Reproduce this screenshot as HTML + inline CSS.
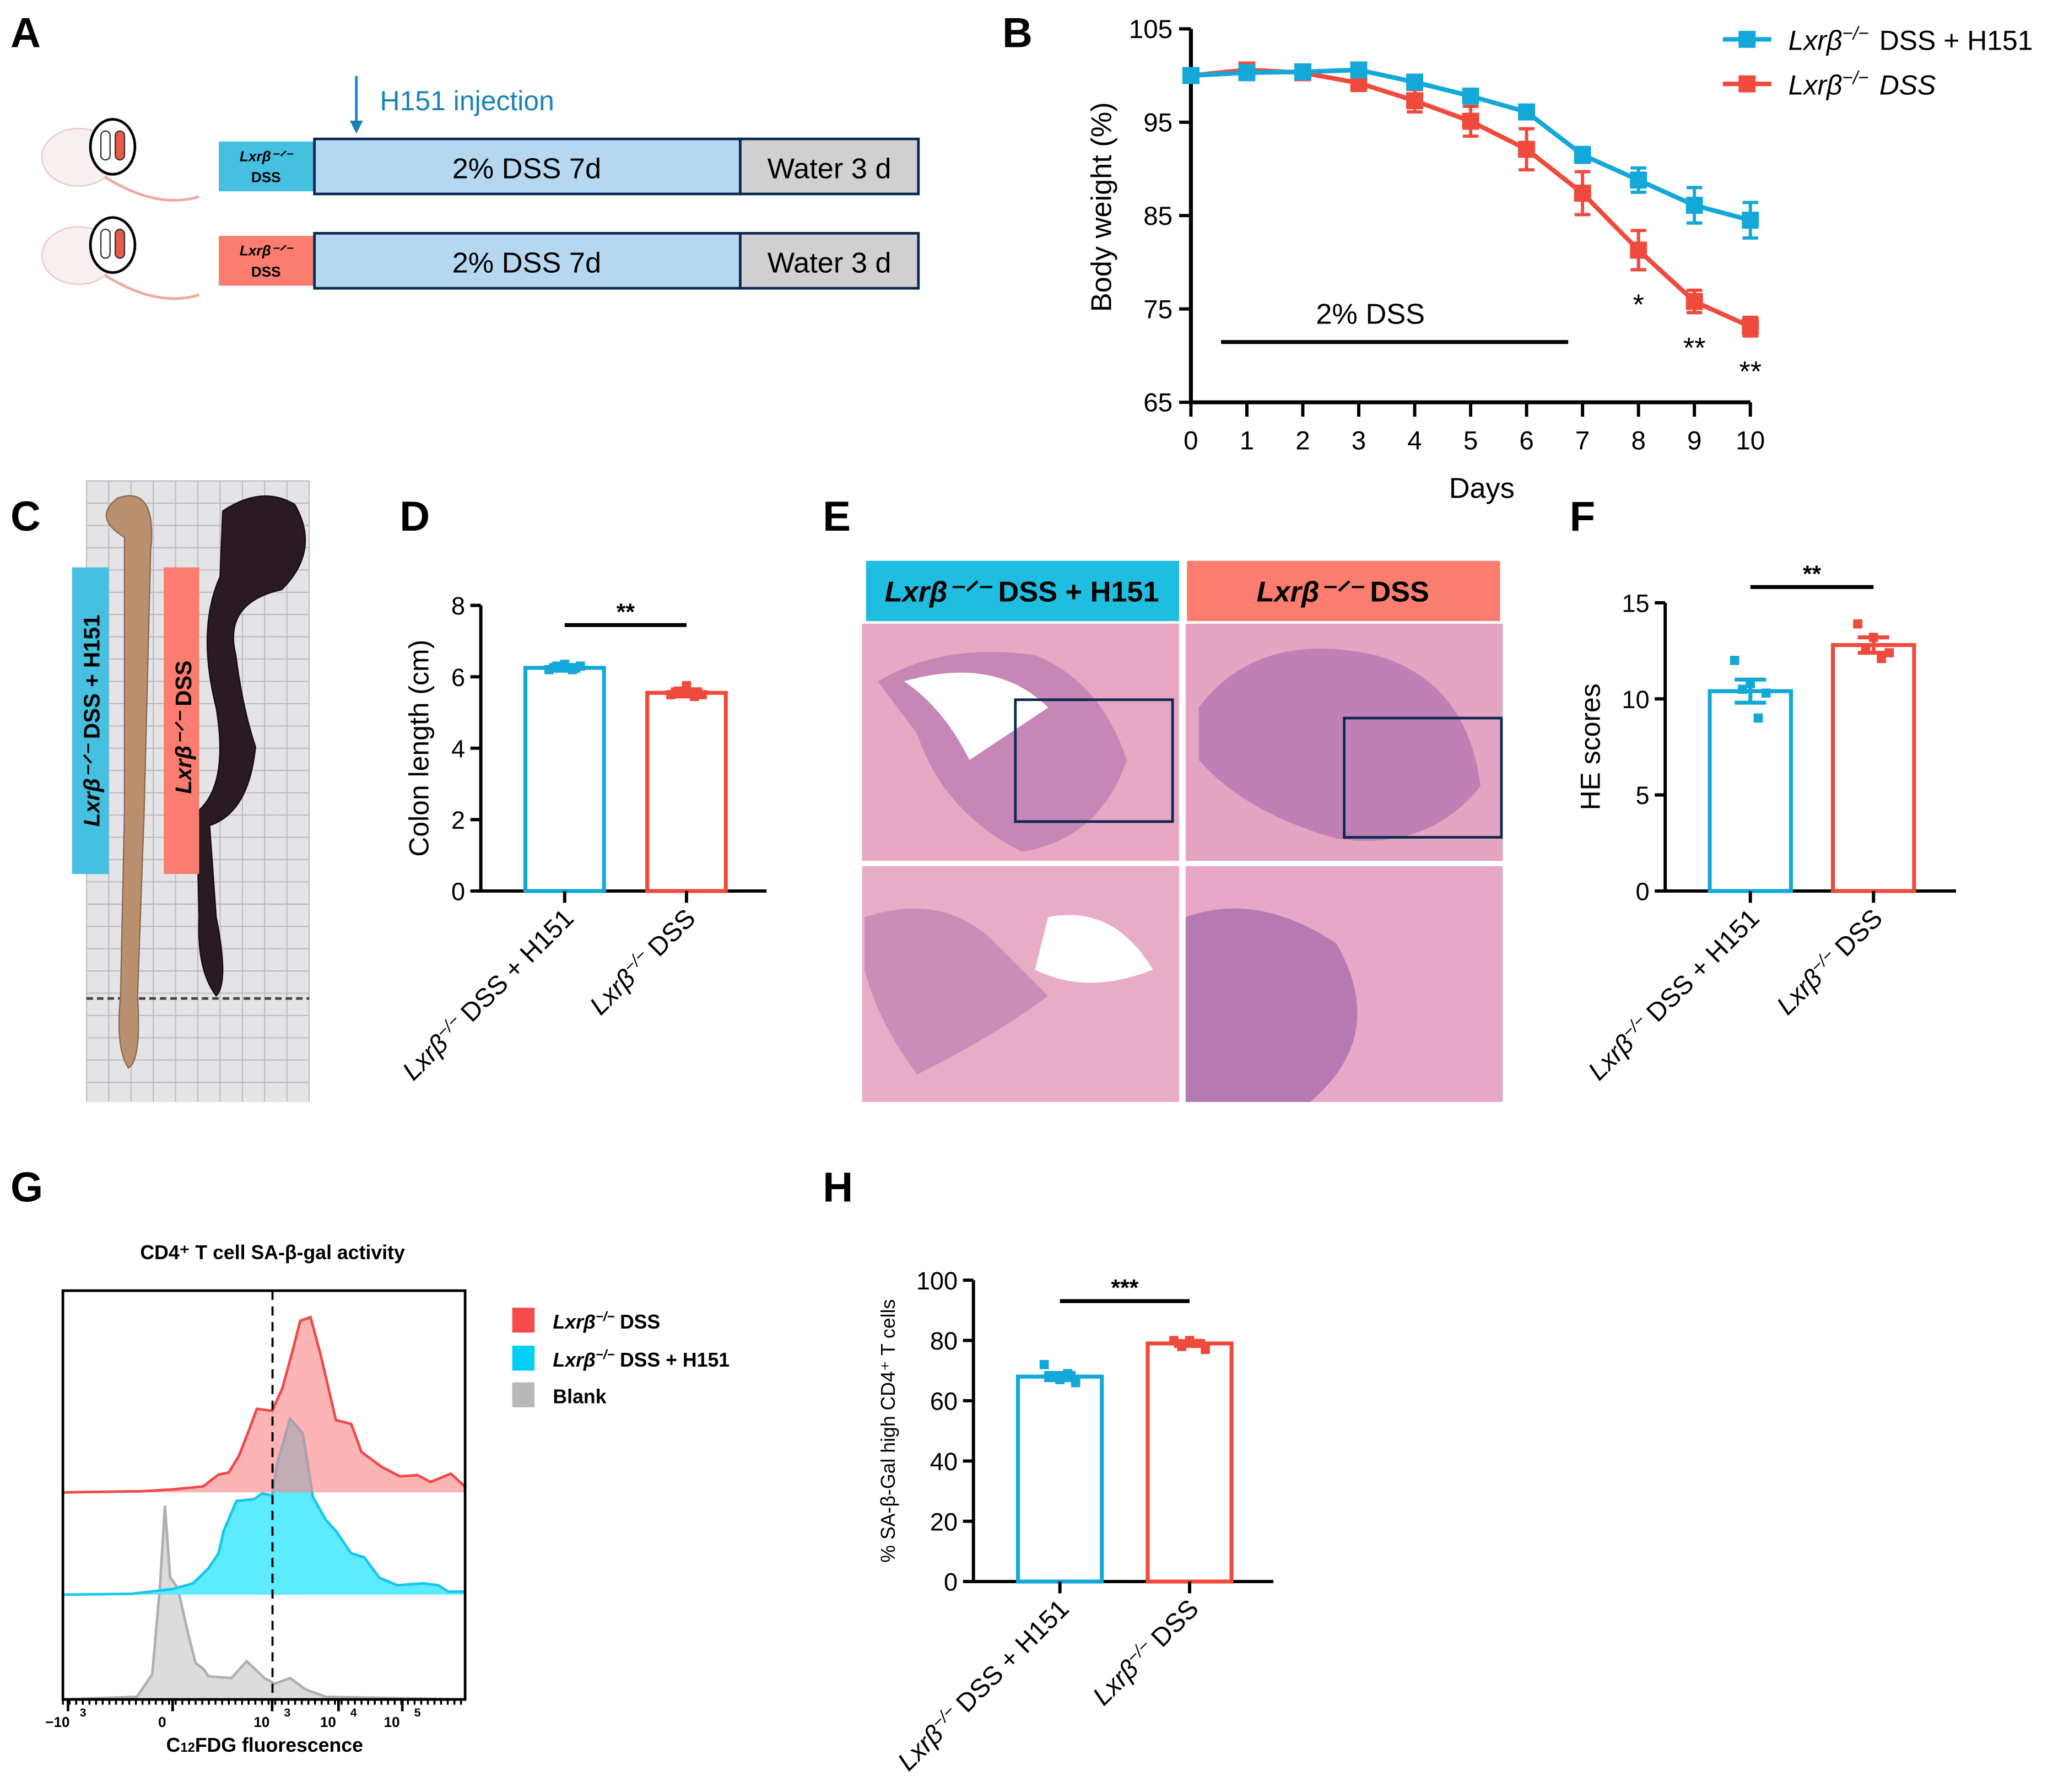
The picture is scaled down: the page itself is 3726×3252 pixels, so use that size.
<!DOCTYPE html>
<html><head><meta charset="utf-8"><style>
html,body{margin:0;padding:0;background:#fff;}
svg{display:block;font-family:"Liberation Sans",Arial,sans-serif;}
</style></head><body>
<svg id="fig" width="3726" height="3252" viewBox="0 0 1567 1367.6" xmlns="http://www.w3.org/2000/svg">
<rect width="1570" height="1370" fill="#fff"/>
<g font-weight="bold" font-size="32" fill="#000">
<text x="8" y="36">A</text><text x="765" y="36">B</text><text x="8" y="405">C</text><text x="305" y="405">D</text>
<text x="628" y="405">E</text><text x="1198" y="405">F</text><text x="8" y="917">G</text><text x="628" y="917">H</text>
</g>

<!-- Panel A -->
<g>
<g>
<ellipse cx="60" cy="120" rx="28" ry="22" fill="#f8f0f0" stroke="#e8c8c8"/>
<path d="M80 135 Q120 160 152 150" fill="none" stroke="#f0a8a0" stroke-width="2"/>
<ellipse cx="86" cy="112" rx="17" ry="21" fill="#fff" stroke="#000" stroke-width="2"/>
<rect x="77" y="100" width="7" height="22" rx="3.5" fill="#fff" stroke="#333"/><rect x="88" y="100" width="7" height="22" rx="3.5" fill="#ea5a48" stroke="#333"/>
</g>
<g>
<ellipse cx="60" cy="195" rx="28" ry="22" fill="#f8f0f0" stroke="#e8c8c8"/>
<path d="M80 210 Q120 235 152 225" fill="none" stroke="#f0a8a0" stroke-width="2"/>
<ellipse cx="86" cy="187" rx="17" ry="21" fill="#fff" stroke="#000" stroke-width="2"/>
<rect x="77" y="175" width="7" height="22" rx="3.5" fill="#fff" stroke="#333"/><rect x="88" y="175" width="7" height="22" rx="3.5" fill="#ea5a48" stroke="#333"/>
</g>
<line x1="272" y1="58" x2="272" y2="95" stroke="#1a82b8" stroke-width="2"/>
<path d="M267 92 L272 102 L277 92 Z" fill="#1a82b8"/>
<text x="290" y="84" font-size="21" fill="#1a82b8">H151 injection</text>
<rect x="167" y="108" width="73" height="38" fill="#45c0e0"/>
<text x="203" y="123" font-size="11" font-weight="bold" font-style="italic" text-anchor="middle">Lxrβ⁻ᐟ⁻</text>
<text x="203" y="139" font-size="11" font-weight="bold" text-anchor="middle">DSS</text>
<rect x="240" y="106" width="325" height="42" fill="#b5d8f0" stroke="#0a2a50" stroke-width="2"/>
<text x="402" y="136" font-size="22" text-anchor="middle">2% DSS 7d</text>
<rect x="565" y="106" width="136" height="42" fill="#d0d0d0" stroke="#0a2a50" stroke-width="2"/>
<text x="633" y="136" font-size="22" text-anchor="middle">Water 3 d</text>
<rect x="167" y="180" width="73" height="38" fill="#fa7d70"/>
<text x="203" y="195" font-size="11" font-weight="bold" font-style="italic" text-anchor="middle">Lxrβ⁻ᐟ⁻</text>
<text x="203" y="211" font-size="11" font-weight="bold" text-anchor="middle">DSS</text>
<rect x="240" y="178" width="325" height="42" fill="#b5d8f0" stroke="#0a2a50" stroke-width="2"/>
<text x="402" y="208" font-size="22" text-anchor="middle">2% DSS 7d</text>
<rect x="565" y="178" width="136" height="42" fill="#d0d0d0" stroke="#0a2a50" stroke-width="2"/>
<text x="633" y="208" font-size="22" text-anchor="middle">Water 3 d</text>
</g>

<!-- Panel B -->
<g id="lineChart"></g>

<!-- Panel C photo -->
<g>
<rect x="66" y="367" width="170" height="474" fill="#e4e4e6"/>
<g stroke="#b8b8bc" stroke-width="0.8" id="gridC"></g>
<line x1="66" y1="762" x2="236" y2="762" stroke="#444" stroke-width="2" stroke-dasharray="5,3"/>
<path d="M95 410 Q70 395 90 380 Q120 370 115 420 L110 620 L105 760 Q108 810 98 815 Q88 800 92 760 L95 620 Z" fill="#b89070" stroke="#8a6a50"/>
<path d="M170 390 Q200 370 225 385 Q245 420 215 450 Q170 460 180 500 Q185 540 195 570 Q190 620 160 630 L165 700 Q175 750 165 760 Q150 740 152 700 L150 620 Q175 600 165 540 Q150 480 168 440 Z" fill="#2a1a24" stroke="#1a0a14"/>
<rect x="55" y="433" width="28" height="234" fill="#45c0e0"/>
<text transform="translate(76,550) rotate(-90)" font-size="17" font-weight="bold" text-anchor="middle"><tspan font-style="italic">Lxrβ⁻ᐟ⁻</tspan> DSS + H151</text>
<rect x="125" y="433" width="27" height="234" fill="#fa7d70"/>
<text transform="translate(146,555) rotate(-90)" font-size="17" font-weight="bold" text-anchor="middle"><tspan font-style="italic">Lxrβ⁻ᐟ⁻</tspan> DSS</text>
</g>

<!-- Bar charts -->
<g id="barD"></g>
<g id="barF"></g>
<g id="barH"></g>

<!-- Panel E histology -->
<g>
<rect x="661" y="428" width="239" height="46" fill="#1fbde0"/>
<text x="780" y="459" font-size="22" font-weight="bold" text-anchor="middle"><tspan font-style="italic">Lxrβ⁻ᐟ⁻</tspan> DSS + H151</text>
<rect x="906" y="428" width="239" height="46" fill="#fa7d70"/>
<text x="1025" y="459" font-size="22" font-weight="bold" text-anchor="middle"><tspan font-style="italic">Lxrβ⁻ᐟ⁻</tspan> DSS</text>
<rect x="658" y="476" width="242" height="181" fill="#e8a8c4"/>
<path d="M670 520 Q720 490 790 500 Q840 520 860 580 Q840 640 780 650 Q720 620 700 560 Z" fill="#b878b0" opacity="0.7"/>
<path d="M690 520 Q760 500 800 540 Q770 560 740 580 Q720 540 690 520 Z" fill="#fff"/>
<rect x="775" y="534" width="120" height="93" fill="none" stroke="#0a2a50" stroke-width="2"/>
<rect x="905" y="476" width="242" height="181" fill="#e4a4c2"/>
<path d="M915 540 Q960 480 1050 500 Q1120 520 1130 600 Q1090 650 1020 640 Q950 620 915 580 Z" fill="#b070b0" opacity="0.7"/>
<rect x="1026" y="548" width="120" height="91" fill="none" stroke="#0a2a50" stroke-width="2"/>
<rect x="658" y="661" width="242" height="180" fill="#e8acc6"/>
<path d="M660 700 Q720 680 760 720 L800 760 Q760 790 700 820 Q670 780 660 740 Z" fill="#b07ab0" opacity="0.6"/>
<path d="M800 700 Q850 690 880 740 Q830 760 790 740 Z" fill="#fff"/>
<rect x="905" y="661" width="242" height="180" fill="#e6a8c6"/>
<path d="M905 700 Q960 680 1020 720 Q1060 790 1000 841 L905 841 Z" fill="#9e66a8" opacity="0.7"/>
</g>

<!-- Panel G histogram -->
<g id="histG"></g>
</svg>
<script>
const NS='http://www.w3.org/2000/svg';
function mk(parent,tag,attrs,text){const e=document.createElementNS(NS,tag);for(const k in attrs)e.setAttribute(k,attrs[k]);if(text!==undefined)e.textContent=text;parent.appendChild(e);return e;}

// grid for photo
const gc=document.getElementById('gridC');
for(let x=66;x<=236;x+=17){const l=mk(gc,'line',{x1:x,y1:367,x2:x,y2:841});}
for(let y=367;y<=841;y+=17){const l=mk(gc,'line',{x1:66,y1:y,x2:236,y2:y});}

// ===== Panel B data =====
const days=[0,1,2,3,4,5,6,7,8,9,10];
const yTicksB=[65,75,85,95,105];
const blueMean=[100,100.3,100.4,100.6,99.3,97.8,96.1,91.5,88.8,86.1,84.5];
const blueErr=[0.3,0.4,0.4,0.5,0.5,0.4,0.3,0.8,1.3,1.9,1.9];
const redMean=[100,100.6,100.3,99.2,97.3,95.1,92.1,87.4,81.3,75.8,73.1];
const redErr=[0.3,0.4,0.4,0.8,1.2,1.6,2.2,2.3,2.1,1.2,1.0];
const sigLabels=['*','**','**'];
const sigDays=[8,9,10];
(function(){
 const g=document.getElementById('lineChart');
 const x=d=>909+d*42.7, y=v=>307-(v-65)*7.125;
 let a=mk(g,'path',{d:`M909 22 L909 307 L1336 307`,fill:'none',stroke:'#000','stroke-width':3});
 
 yTicksB.forEach(v=>{mk(g,'line',{x1:900,y1:y(v),x2:909,y2:y(v),stroke:'#000','stroke-width':2.5});
  const t=mk(g,'text',{x:895,y:y(v)+7,'font-size':20,'text-anchor':'end'},v);});
 days.forEach(d=>{mk(g,'line',{x1:x(d),y1:307,x2:x(d),y2:318,stroke:'#000','stroke-width':2.5});
  const t=mk(g,'text',{x:x(d),y:343,'font-size':20,'text-anchor':'middle'},d);});
 let t=mk(g,'text',{x:1131,y:380,'font-size':22,'text-anchor':'middle'},'Days');
 t=mk(g,'text',{transform:'translate(848,158) rotate(-90)','font-size':22,'text-anchor':'middle'},'Body weight (%)');
 mk(g,'line',{x1:932,y1:261,x2:1197,y2:261,stroke:'#000','stroke-width':3});
 t=mk(g,'text',{x:1046,y:247,'font-size':22,'text-anchor':'middle'},'2% DSS');
 [[redMean,redErr,'#f04a3c','red'],[blueMean,blueErr,'#13a8d8','blue']].forEach(([m,e,c,n])=>{
  const p=mk(g,'path',{d:m.map((v,i)=>(i?'L':'M')+x(days[i])+' '+y(v)).join(' '),fill:'none',stroke:c,'stroke-width':3.5});
  
  m.forEach((v,i)=>{const cx=x(days[i]);
   mk(g,'path',{d:`M${cx} ${y(v+e[i])} V${y(v-e[i])} M${cx-6} ${y(v+e[i])} H${cx+6} M${cx-6} ${y(v-e[i])} H${cx+6}`,stroke:c,'stroke-width':2.5,fill:'none'});
   const r=mk(g,'rect',{x:cx-6.5,y:y(v)-6.5,width:13,height:13,fill:c});});
 });
 sigDays.forEach((d,i)=>{const tt=mk(g,'text',{x:x(d),y:[240,273,291][i],'font-size':22,'text-anchor':'middle'},sigLabels[i]);});
 [['#13a8d8','DSS + H151',30],['#f04a3c','DSS',64]].forEach(([c,l,yy])=>{
  mk(g,'line',{x1:1315,y1:yy,x2:1352,y2:yy,stroke:c,'stroke-width':3.5});mk(g,'rect',{x:1327,y:yy-6.5,width:13,height:13,fill:c});
  const tx=mk(g,'text',{x:1365,y:yy+8,'font-size':21});
  mk(tx,'tspan',{'font-style':'italic'},'Lxrβ');mk(tx,'tspan',{dy:-8,'font-size':14,'font-style':'italic'},'−/−');mk(tx,'tspan',{dy:8,dx:8,'font-style':l==='DSS'?'italic':'normal'},l);});
})();

// ===== Bar charts data =====
const groups=['DSS + H151','DSS'];
const colonMean=[6.25,5.55], colonErr=[0.08,0.1];
const colonPts=[[6.2,6.3,6.35,6.2,6.3],[5.5,5.6,5.75,5.45,5.5]];
const colonTicks=[0,2,4,6,8];
const heMean=[10.4,12.8], heErr=[0.6,0.4];
const hePts=[[12,10.5,10.8,9,10.3],[13.9,12.6,13.2,12.1,12.4]];
const heTicks=[0,5,10,15];
const galMean=[68,79], galErr=[1.2,0.8];
const galPts=[[72,68,67,69,66],[80,78,80,79,77]];
const galTicks=[0,20,40,60,80,100];

function barChart(id,o,mean,err,pts,ticks,sig){
 const g=document.getElementById(id);
 const y=v=>o.y0-(v/o.max)*(o.y0-o.yTop);
 mk(g,'path',{d:`M${o.ax} ${o.yTop} V${o.y0} H${o.axEnd}`,fill:'none',stroke:'#000','stroke-width':2.5});
 ticks.forEach(v=>{mk(g,'line',{x1:o.ax-8,y1:y(v),x2:o.ax,y2:y(v),stroke:'#000','stroke-width':2.5});
  const t=mk(g,'text',{x:o.ax-12,y:y(v)+7,'font-size':19,'text-anchor':'end'},v);});
 const t=mk(g,'text',{transform:`translate(${o.titleX},${(o.y0+o.yTop)/2}) rotate(-90)`,'font-size':o.tfs,'text-anchor':'middle'},o.title);
 const cols=['#13a8d8','#f04a3c'];
 mean.forEach((m,i)=>{const bx=o.bx[i],w=o.bw,cx=bx+w/2;
  const r=mk(g,'rect',{x:bx,y:y(m),width:w,height:o.y0-y(m),fill:'none',stroke:cols[i],'stroke-width':3});
  mk(g,'path',{d:`M${cx} ${y(m+err[i])} V${y(m-err[i])} M${cx-12} ${y(m+err[i])} H${cx+12} M${cx-12} ${y(m-err[i])} H${cx+12} M${cx-18} ${y(m)} H${cx+18}`,stroke:cols[i],'stroke-width':3,fill:'none'});
  pts[i].forEach((p,j)=>{const q=mk(g,'rect',{x:cx-12+j*6-3.5,y:y(p)-3.5,width:7,height:7,fill:cols[i]});});
  mk(g,'line',{x1:cx,y1:o.y0,x2:cx,y2:o.y0+9,stroke:'#000','stroke-width':2.5});
  const lab=mk(g,'text',{transform:`translate(${cx+8},${o.y0+22}) rotate(-45)`,'font-size':20,'text-anchor':'end'});
  mk(lab,'tspan',{'font-style':'italic'},'Lxrβ');mk(lab,'tspan',{dy:-7,'font-size':13,'font-style':'italic'},'−/−');mk(lab,'tspan',{dy:7,dx:5},groups[i]);
 });
 const c0=o.bx[0]+o.bw/2,c1=o.bx[1]+o.bw/2;
 mk(g,'line',{x1:c0,y1:o.sigY,x2:c1,y2:o.sigY,stroke:'#000','stroke-width':3});
 const s=mk(g,'text',{x:(c0+c1)/2,y:o.sigY-4,'font-size':18,'font-weight':'bold','text-anchor':'middle'},sig);
}
barChart('barD',{ax:367,axEnd:585,y0:680,yTop:462,max:8,bx:[401,494],bw:60,titleX:327,title:'Colon length (cm)',tfs:21,sigY:477},colonMean,colonErr,colonPts,colonTicks,'**');
barChart('barF',{ax:1271,axEnd:1493,y0:680,yTop:460,max:15,bx:[1305,1399],bw:62,titleX:1221,title:'HE scores',tfs:21,sigY:448},heMean,heErr,hePts,heTicks,'**');
barChart('barH',{ax:743,axEnd:972,y0:1207,yTop:977,max:100,bx:[777,876],bw:64,titleX:683,title:'% SA-β-Gal high CD4⁺ T cells',tfs:15,sigY:993},galMean,galErr,galPts,galTicks,'***');

// ===== Panel G histogram data =====
// channel positions (axis units 0..788 across the plot) and heights (units above each baseline)
const redCh=[0,155,215,275,305,325,345,365,380,410,430,450,465,485,505,535,565,585,625,660,695,720,760,790];
const redH=[0,3,8,16,48,53,98,168,223,218,278,378,458,468,368,193,183,108,68,43,46,28,50,13];
const blueCh=[0,135,215,255,285,305,315,340,375,390,410,420,445,470,490,515,535,565,590,620,655,705,735,755,788];
const blueH=[0,2,15,30,70,110,170,250,255,270,265,350,470,430,260,200,170,110,100,45,25,30,25,8,8];
const grayCh=[0,145,175,190,200,210,225,245,260,275,285,330,360,395,415,445,475,515,788];
const grayH=[0,7,67,297,517,327,297,177,97,82,62,57,102,57,42,57,27,7,0];
const redArr=[redCh,redH], blueArr=[blueCh,blueH], grayArr=[grayCh,grayH];
const xTickLabels=['−10','0','10','10','10'];
const xTickExp=['3','','3','4','5'];
const xTickCh=[10,215,410,540,665];
(function(){
 const g=document.getElementById('histG');
 const L=48,R=355,T=985,B=1297;
 const x=c=>L+c*(R-L)/788, hs=h=>h*0.286;
 let t=mk(g,'text',{x:208,y:961,'font-size':15,'font-weight':'bold','text-anchor':'middle'},'CD4⁺ T cell SA-β-gal activity');
 function curve(arr,base,fill,stroke,name){const [ch,h]=arr;
  const d=ch.map((c,i)=>(i?'L':'M')+x(c).toFixed(1)+' '+(base-hs(h[i])).toFixed(1)).join(' ');
  const f=mk(g,'path',{d:d+` L${R} ${base} L${L} ${base} Z`,fill:fill,stroke:'none'});
  const p=mk(g,'path',{d:d,fill:'none',stroke:stroke,'stroke-width':2});}
 curve(grayArr,B,'#dcdcdc','#b0b0b0','blank');
 curve(blueArr,1217,'#5cebff','#17c6f0','dss-h151');
 curve(redArr,1139,'rgba(250,140,140,0.65)','#f04a4a','dss');
 mk(g,'rect',{x:L,y:T,width:R-L,height:B-T,fill:'none',stroke:'#000','stroke-width':2});
 mk(g,'line',{x1:208,y1:T,x2:208,y2:B,stroke:'#000','stroke-width':1.6,'stroke-dasharray':'7,5'});
 for(let c=0;c<=788;c+=13){mk(g,'line',{x1:x(c),y1:B,x2:x(c),y2:B+4,stroke:'#000','stroke-width':1.5});}
 xTickCh.forEach((c,i)=>{mk(g,'line',{x1:x(c),y1:B,x2:x(c),y2:B+9,stroke:'#000','stroke-width':2});
  const tx=mk(g,'text',{x:x(c)-8,y:B+21,'font-size':11,'font-weight':'bold','text-anchor':'middle'},xTickLabels[i]);
  if(xTickExp[i])mk(g,'text',{x:x(c)+9,y:B+13,'font-size':9,'font-weight':'bold'},xTickExp[i]);});
 t=mk(g,'text',{x:202,y:1337,'font-size':15,'font-weight':'bold','text-anchor':'middle'});
 mk(t,'tspan',{},'C');mk(t,'tspan',{'font-size':10},'12');mk(t,'tspan',{},'FDG fluorescence');
 [['#f74a4a','DSS',true,1007],['#00d0f5','DSS + H151',true,1036],['#b8b8b8','Blank',false,1064]].forEach(([c,l,it,yy])=>{
  const r=mk(g,'rect',{x:391,y:yy-9,width:17,height:19,fill:c});
  const tx=mk(g,'text',{x:422,y:yy+7,'font-size':15,'font-weight':'bold'});
  if(it){mk(tx,'tspan',{'font-style':'italic'},'Lxrβ');mk(tx,'tspan',{dy:-6,'font-size':10,'font-style':'italic'},'−/−');mk(tx,'tspan',{dy:6,dx:4},l);}else tx.textContent=l;});
})();
</script>
</body></html>
